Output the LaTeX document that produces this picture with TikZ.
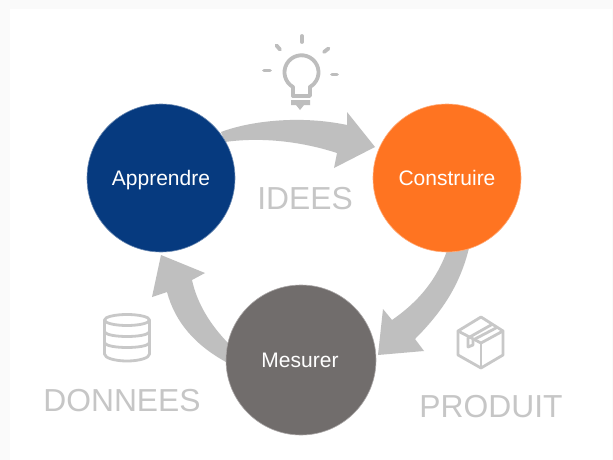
\documentclass[tikz,border=0pt]{standalone}
\usepackage{fontspec}
\setmainfont{Liberation Sans}
\definecolor{arrowgrey}{HTML}{BFBFBF}
\definecolor{textgrey}{HTML}{C6C6C6}
\definecolor{icongrey}{HTML}{BDBDBD}
\definecolor{iconlight}{HTML}{C8C8C8}
\definecolor{bleu}{HTML}{063A7F}
\definecolor{orange2}{HTML}{FF7421}
\definecolor{gris}{HTML}{716D6C}
\tikzset{
  stage/.style={circle,inner sep=0pt,minimum size=148pt,draw=#1!60!white,line width=0.6pt,fill=#1},
  stagetext/.style={anchor=base,inner sep=0pt,text=white,font=\fontsize{21}{25}\selectfont},
  biglabel/.style={anchor=base,inner sep=0pt,text=textgrey,font=\fontsize{31.8}{36}\selectfont},
  blockarrow/.style={fill=arrowgrey,draw=none},
  icon/.style={draw=icongrey,line width=3.8pt,line join=round,line cap=round},
  iconthin/.style={draw=iconlight,line width=2.8pt,line join=round,line cap=round}
}
\begin{document}
\begin{tikzpicture}[x=1pt,y=-1pt]
\useasboundingbox (0,0) rectangle (613,460);
\fill[black!2] (0,0) rectangle (613,460);
\fill[white] (10,9) rectangle (612,460);
% block arrows
\fill[blockarrow] (221,132) .. controls (250,121) and (300,115) .. (347,125)
  -- (347,112) -- (375,147) -- (334,168) -- (337,153)
  .. controls (300,141) and (260,137) .. (225,142) -- cycle;
\fill[blockarrow] (469,248) .. controls (460,285) and (442,312) .. (415,339)
  -- (424,351) -- (378,355) -- (383,309) -- (392,320)
  .. controls (418,302) and (437,280) .. (448,248) -- cycle;
\fill[blockarrow] (161,255) -- (205,273) -- (192,280)
  .. controls (197,303) and (210,325) .. (230,345) -- (226,362)
  .. controls (195,345) and (175,322) .. (167,292) -- (152,297) -- cycle;
% circles
\node[stage=bleu] (apprendre) at (161,178) {};
\node[stage=orange2] (construire) at (447,178) {};
\node[stage=gris,minimum size=150pt] (mesurer) at (301,360) {};
\node[stagetext] (tA) at (161,185) {Apprendre};
\node[stagetext] (tC) at (447,185) {Construire};
\node[stagetext] (tM) at (300,367) {Mesurer};
% labels
\node[biglabel] (idees) at (305,209) {IDEES};
\node[biglabel] (donnees) at (122,411) {DONNEES};
\node[biglabel] (produit) at (491,417) {PRODUIT};
% bulb
\draw[icon] (302,36) -- (302,42);
\draw[icon] (276.5,45.5) -- (280,49.5);
\draw[icon] (328.5,48.5) -- (324,52);
\draw[icon] (264,70.5) -- (270,70.5);
\draw[icon] (332,74.5) -- (337,74.5);
\draw[icon] (293,96) -- (293,87) arc[start angle=120,end angle=420,radius=17];
\draw[icon] (293,96) -- (310,96) -- (310,87);
\fill[icongrey] (291,100) -- (310,100) -- (310,105) -- (304,105) -- (300,110) -- (296,105) -- (291,105) -- cycle;
% database
\draw[iconthin] (127,320) ellipse[x radius=22.5,y radius=5.5];
\draw[iconthin] (104.5,320) -- (104.5,354) .. controls (104.5,358) and (115,361) .. (127,361) .. controls (139,361) and (149.5,358) .. (149.5,354) -- (149.5,320);
\draw[iconthin] (104.5,332) .. controls (108,338) and (146,338) .. (149.5,332);
\draw[iconthin] (104.5,343) .. controls (108,349) and (146,349) .. (149.5,343);
% box
\draw[iconthin] (481,317) -- (503,331) -- (503,355) -- (481,368) -- (458,355) -- (458,331) -- cycle;
\draw[iconthin] (458,331) -- (481,343) -- (503,331);
\draw[iconthin] (481,343) -- (481,368);
\draw[iconthin] (491,325) -- (468,338) -- (468,347) -- (473,345) -- (473,340) -- (496,328);
\end{tikzpicture}
\end{document}
